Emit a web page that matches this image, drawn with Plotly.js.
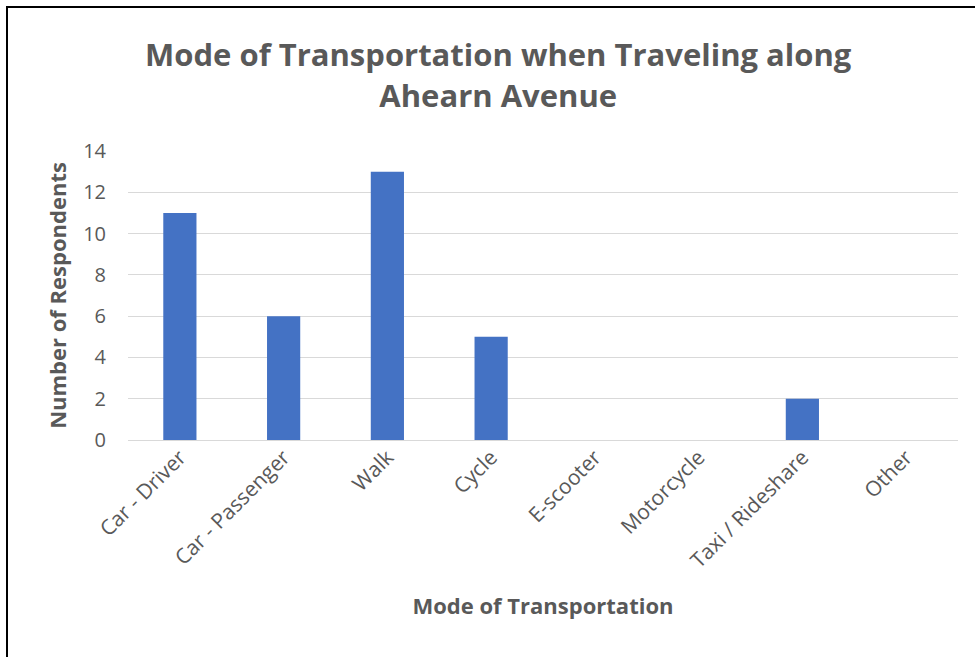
<!DOCTYPE html>
<html>
<head>
<meta charset="utf-8">
<script src="https://cdn.plot.ly/plotly-3.0.1.min.js"></script>
<style>
  html, body { margin: 0; padding: 0; background: #fff; }
  #wrap { position: relative; width: 975px; height: 657px; }
  #chart { position: absolute; left: 0; top: 0; width: 975px; height: 657px; }
  #frame { position: absolute; left: 6px; top: 6px; right: 0; bottom: 0; border-left: 2px solid #000; border-top: 2px solid #000; pointer-events: none; }
</style>
</head>
<body>
<div id="wrap">
  <div id="chart"></div>
  <div id="frame"></div>
</div>
<script>
const categories = ["Car - Driver", "Car - Passenger", "Walk", "Cycle", "E-scooter", "Motorcycle", "Taxi / Rideshare", "Other"];
const respondents = [11, 6, 13, 5, 0, 0, 2, 0];
const yTicks = [0, 2, 4, 6, 8, 10, 12, 14];

const FONT = '"Open Sans", "Noto Sans", sans-serif';
const GREY = '#595959';

const data = [{
  type: 'bar',
  x: categories,
  y: respondents,
  marker: { color: '#4472C4' },
  hoverinfo: 'x+y'
}];

const layout = {
  width: 975,
  height: 657,
  margin: { l: 128, r: 17, t: 151, b: 217 },
  paper_bgcolor: '#ffffff',
  plot_bgcolor: '#ffffff',
  bargap: 0.68,
  showlegend: false,
  font: { family: FONT, color: GREY },
  title: {
    text: 'Mode of Transportation when Traveling along<br>Ahearn Avenue',
    font: { family: FONT, size: 31, color: GREY, weight: 'bold' },
    x: 0.511,
    xanchor: 'center',
    y: 0.899,
    yanchor: 'top'
  },
  xaxis: {
    type: 'category',
    tickangle: -45,
    tickfont: { family: FONT, size: 21, color: GREY },
    showgrid: false,
    showline: false,
    zeroline: false,
    ticks: '',
    automargin: false,
    title: {
      text: 'Mode of Transportation',
      font: { family: FONT, size: 22, color: GREY, weight: 'bold' },
      standoff: 26
    }
  },
  yaxis: {
    range: [0, 14],
    tickvals: yTicks,
    ticktext: yTicks.map(String),
    tickfont: { family: FONT, size: 20, color: GREY },
    showgrid: true,
    gridcolor: '#d9d9d9',
    gridwidth: 1.3,
    zeroline: true,
    zerolinecolor: '#d9d9d9',
    zerolinewidth: 1.3,
    showline: false,
    ticks: '',
    ticklabelstandoff: 21,
    automargin: false,
    title: {
      text: 'Number of Respondents',
      font: { family: FONT, size: 22, color: GREY, weight: 'bold' },
      standoff: 10
    }
  }
};

Plotly.newPlot('chart', data, layout, { displayModeBar: false, responsive: false });
</script>
</body>
</html>
